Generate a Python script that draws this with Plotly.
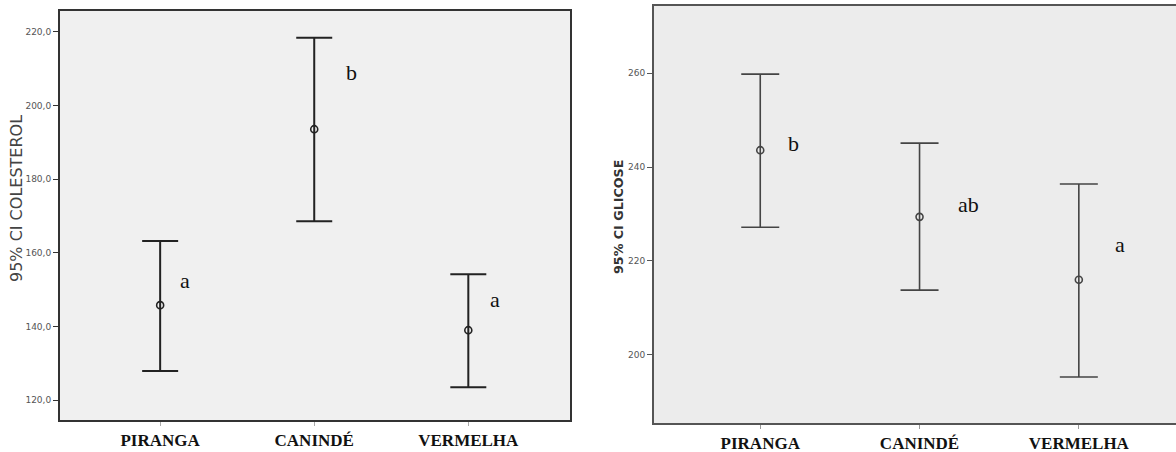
import plotly.graph_objects as go

categories = ["PIRANGA", "CANINDÉ", "VERMELHA"]

# Left panel: cholesterol 95% CI
chol_mean = [145.8, 193.6, 139.0]
chol_upper = [163.2, 218.4, 154.2]
chol_lower = [127.9, 168.6, 123.5]
chol_letters = ["a", "b", "a"]
chol_letter_y = [152.6, 209.1, 147.2]
chol_ticks = [120, 140, 160, 180, 200, 220]
chol_ticktext = ["120,0", "140,0", "160,0", "180,0", "200,0", "220,0"]

# Right panel: glucose 95% CI
glic_mean = [243.6, 229.4, 216.0]
glic_upper = [259.8, 245.1, 236.4]
glic_lower = [227.2, 213.8, 195.3]
glic_letters = ["b", "ab", "a"]
glic_letter_y = [245.1, 232.1, 223.6]
glic_ticks = [200, 220, 240, 260]
glic_ticktext = ["200", "220", "240", "260"]

W, H = 1176, 452

def px_x(p):
    return p / W

def px_y(p):
    return 1 - p / H

fig = go.Figure()

fig.add_trace(go.Scatter(
    x=categories, y=chol_mean, mode="markers",
    marker=dict(symbol="circle-open", size=7, color="#222", line=dict(width=1.6)),
    error_y=dict(type="data", symmetric=False,
                 array=[u - m for u, m in zip(chol_upper, chol_mean)],
                 arrayminus=[m - l for m, l in zip(chol_mean, chol_lower)],
                 width=18, thickness=2, color="#222"),
    xaxis="x", yaxis="y", showlegend=False, hoverinfo="skip"))

fig.add_trace(go.Scatter(
    x=categories, y=glic_mean, mode="markers",
    marker=dict(symbol="circle-open", size=7, color="#444", line=dict(width=1.6)),
    error_y=dict(type="data", symmetric=False,
                 array=[u - m for u, m in zip(glic_upper, glic_mean)],
                 arrayminus=[m - l for m, l in zip(glic_mean, glic_lower)],
                 width=19, thickness=1.6, color="#444"),
    xaxis="x2", yaxis="y2", showlegend=False, hoverinfo="skip"))

cat_font = dict(family="Liberation Serif", size=17, color="#111")

fig.update_layout(
    width=W, height=H,
    margin=dict(l=0, r=0, t=0, b=0),
    paper_bgcolor="white",
    plot_bgcolor="#f0f0f0",
    showlegend=False,
    xaxis=dict(domain=[px_x(60), px_x(570)], range=[-0.65, 2.66],
               type="category", showline=True, linecolor="#333", linewidth=2, mirror=True,
               ticks="outside", ticklen=4, tickcolor="#aaa", tickwidth=1,
               tickfont=cat_font, showgrid=False, zeroline=False,
               tickprefix="<b>", ticksuffix="</b>", anchor="y"),
    yaxis=dict(domain=[px_y(420), px_y(11)], range=[114.6, 225.7],
               showline=True, linecolor="#333", linewidth=2, mirror=True,
               ticks="outside", ticklen=5, tickcolor="#333", tickwidth=1,
               tickvals=chol_ticks, ticktext=chol_ticktext,
               tickfont=dict(family="DejaVu Sans", size=9, color="#555"),
               showgrid=False, zeroline=False, anchor="x"),
    xaxis2=dict(domain=[px_x(654), 1.0], range=[-0.667, 2.61],
                type="category", showline=True, linecolor="#555", linewidth=2, mirror=True,
                ticks="outside", ticklen=4, tickcolor="#999", tickwidth=1,
                tickfont=cat_font, showgrid=False, zeroline=False,
                tickprefix="<b>", ticksuffix="</b>", anchor="y2"),
    yaxis2=dict(domain=[px_y(423), px_y(6)], range=[185.5, 274.3],
                showline=True, linecolor="#555", linewidth=2, mirror=False,
                ticks="outside", ticklen=5, tickcolor="#555", tickwidth=1,
                tickvals=glic_ticks, ticktext=glic_ticktext,
                tickfont=dict(family="DejaVu Sans", size=9, color="#555"),
                showgrid=False, zeroline=False, anchor="x2"),
)

# Right panel background (slightly different gray)
fig.add_shape(type="rect", xref="x2 domain", yref="y2 domain", x0=0, x1=1, y0=0, y1=1,
              fillcolor="#ececec", line=dict(width=0), layer="below")

letter_font = dict(family="Liberation Serif", size=22, color="#111")
chol_shift = [18, 30, 20]
glic_shift = [26, 36, 34]
for c, t, yv, s in zip(categories, chol_letters, chol_letter_y, chol_shift):
    fig.add_annotation(x=c, y=yv, xref="x", yref="y", text=t, showarrow=False,
                       xshift=s, xanchor="left", font=letter_font)
for c, t, yv, s in zip(categories, glic_letters, glic_letter_y, glic_shift):
    fig.add_annotation(x=c, y=yv, xref="x2", yref="y2", text=t, showarrow=False,
                       xshift=s, xanchor="left", font=letter_font)

fig.add_annotation(x=px_x(17), y=px_y(199), xref="paper", yref="paper",
                   xanchor="center", yanchor="middle",
                   text="95% CI COLESTEROL", textangle=-90, showarrow=False,
                   font=dict(family="DejaVu Sans", size=16, color="#444"))
fig.add_annotation(x=px_x(618), y=px_y(217), xref="paper", yref="paper",
                   xanchor="center", yanchor="middle",
                   text="<b>95% CI GLICOSE</b>", textangle=-90, showarrow=False,
                   font=dict(family="DejaVu Sans", size=12.7, color="#333"))

fig.write_html("out.html", config={"displayModeBar": False},
               post_script="document.body.style.margin='0';document.body.style.overflow='hidden';")
